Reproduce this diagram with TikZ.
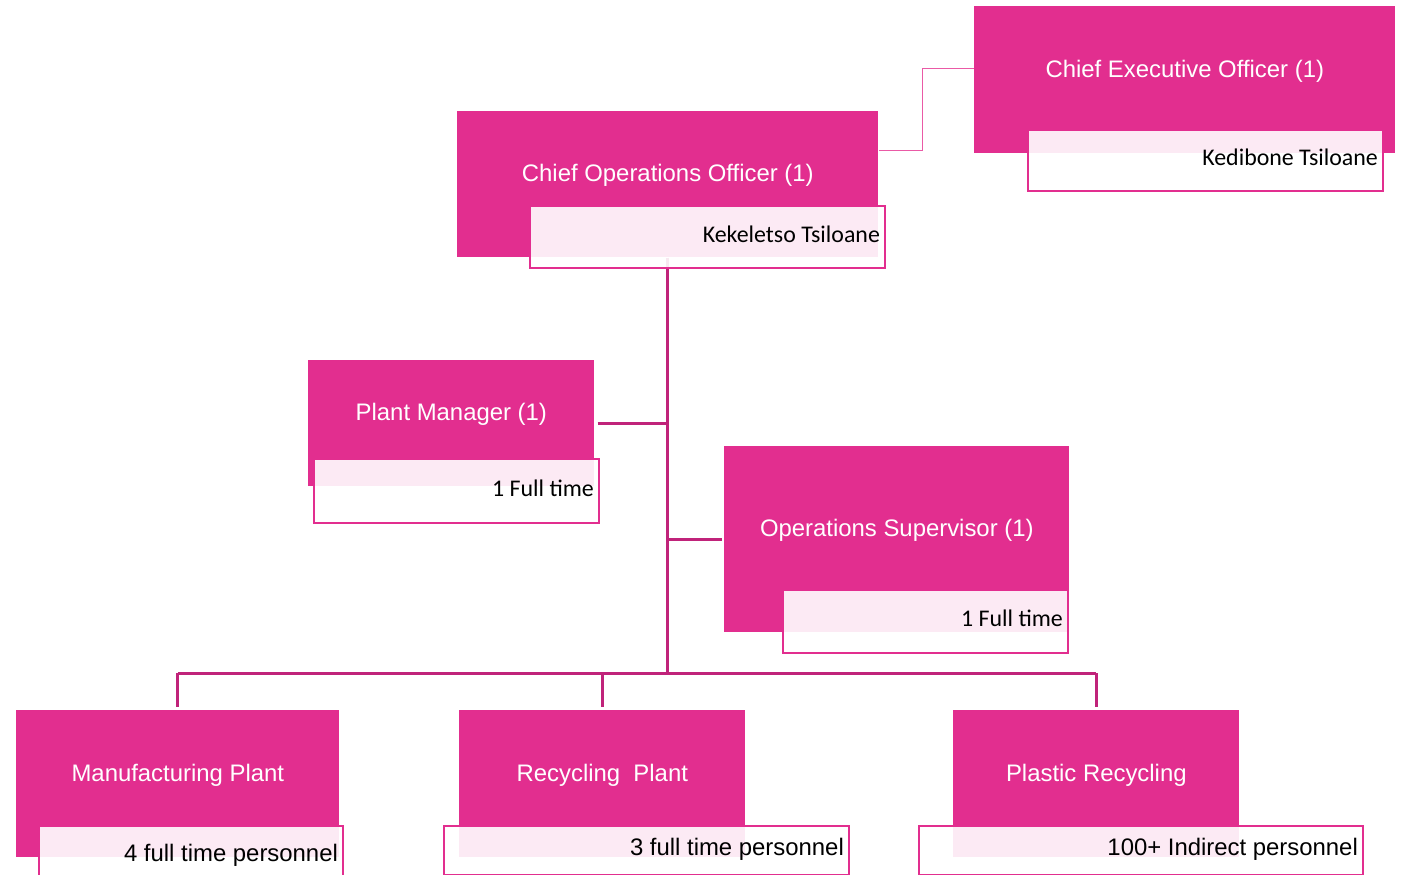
\documentclass[tikz,border=0pt]{standalone}
\usepackage{fontspec}
\setmainfont{Liberation Sans}
\newfontfamily\calibri{Carlito}
\definecolor{orgpink}{HTML}{E22E8F}
\definecolor{linkpink}{HTML}{C0237A}
\definecolor{softpink}{HTML}{EA5AA6}
\tikzset{
  rolebox/.style={fill=orgpink,text=white,anchor=north west,inner sep=0pt,
    font=\fontsize{13.6}{16}\selectfont,text height=10pt,text depth=13.2pt},
  namebox/.style={draw=orgpink,line width=1.1pt,fill=white,fill opacity=0.9,text opacity=1,
    anchor=north west,inner xsep=0.1cm,inner ysep=0pt,text width=#1,align=flush right,
    text height=9pt,text depth=3pt,font=\fontsize{13.6}{16}\selectfont},
  tagfont/.style={font=\calibri\fontsize{13.6}{16}\selectfont},
  trunk/.style={draw=linkpink,line width=1.7pt},
  softlink/.style={draw=softpink,line width=0.7pt},
}
\begin{document}
\begin{tikzpicture}[x=0.02cm,y=-0.02cm]
\useasboundingbox (0,0) rectangle (1406,875);
% roles
\node[rolebox,minimum width=8.42cm,minimum height=2.94cm] (ceo) at (974,6) {Chief Executive Officer (1)};
\node[rolebox,minimum width=8.42cm,minimum height=2.92cm] (coo) at (457,111) {Chief Operations Officer (1)};
\node[rolebox,minimum width=5.72cm,minimum height=2.52cm] (pm) at (308,360) {Plant Manager (1)};
\node[rolebox,minimum width=6.9cm,minimum height=3.72cm] (os) at (724,446) {Operations Supervisor (1)};
\node[rolebox,minimum width=6.46cm,minimum height=2.94cm] (mp) at (16,710) {Manufacturing Plant};
\node[rolebox,minimum width=5.72cm,minimum height=2.94cm] (rp) at (459,710) {Recycling\ \ Plant};
\node[rolebox,minimum width=5.72cm,minimum height=2.94cm] (pr) at (953,710) {Plastic Recycling};
% links
\draw[softlink] ([yshift=0.23cm]ceo.west) -| ([xshift=0.88cm,yshift=0.68cm]coo.east) -- ([yshift=0.68cm]coo.east);
\coordinate (bus) at (667,673);
\draw[trunk] (coo.south) -- (coo.south |- bus);
\draw[trunk] (mp.north |- bus) -- (pr.north |- bus);
\foreach \n in {mp,rp,pr} \draw[trunk,shorten >=0.06cm] (\n.north |- bus) -- (\n.north);
\draw[trunk,shorten <=0.06cm] (pm.east) -- (pm.east -| coo.south);
\draw[trunk,shorten <=0.04cm] (os.west) -- (os.west -| coo.south);
% names
\node[namebox=6.9cm,tagfont,minimum height=1.22cm] (ceoname) at (1027,129) {Kedibone Tsiloane};
\node[namebox=6.9cm,tagfont,minimum height=1.24cm] (cooname) at (529,205) {Kekeletso Tsiloane};
\node[namebox=5.5cm,tagfont,minimum height=1.28cm] (pmname) at (313,458) {1 Full time};
\node[namebox=5.5cm,tagfont,minimum height=1.26cm] (osname) at (782,589) {1 Full time};
\node[namebox=5.88cm,minimum height=1.2cm] (mpname) at (38,825) {4 full time personnel};
\node[namebox=7.9cm,minimum height=0.98cm] (rpname) at (443,825) {3 full time personnel};
\node[namebox=8.68cm,minimum height=0.98cm] (prname) at (918,825) {100+ Indirect personnel};
\end{tikzpicture}
\end{document}
